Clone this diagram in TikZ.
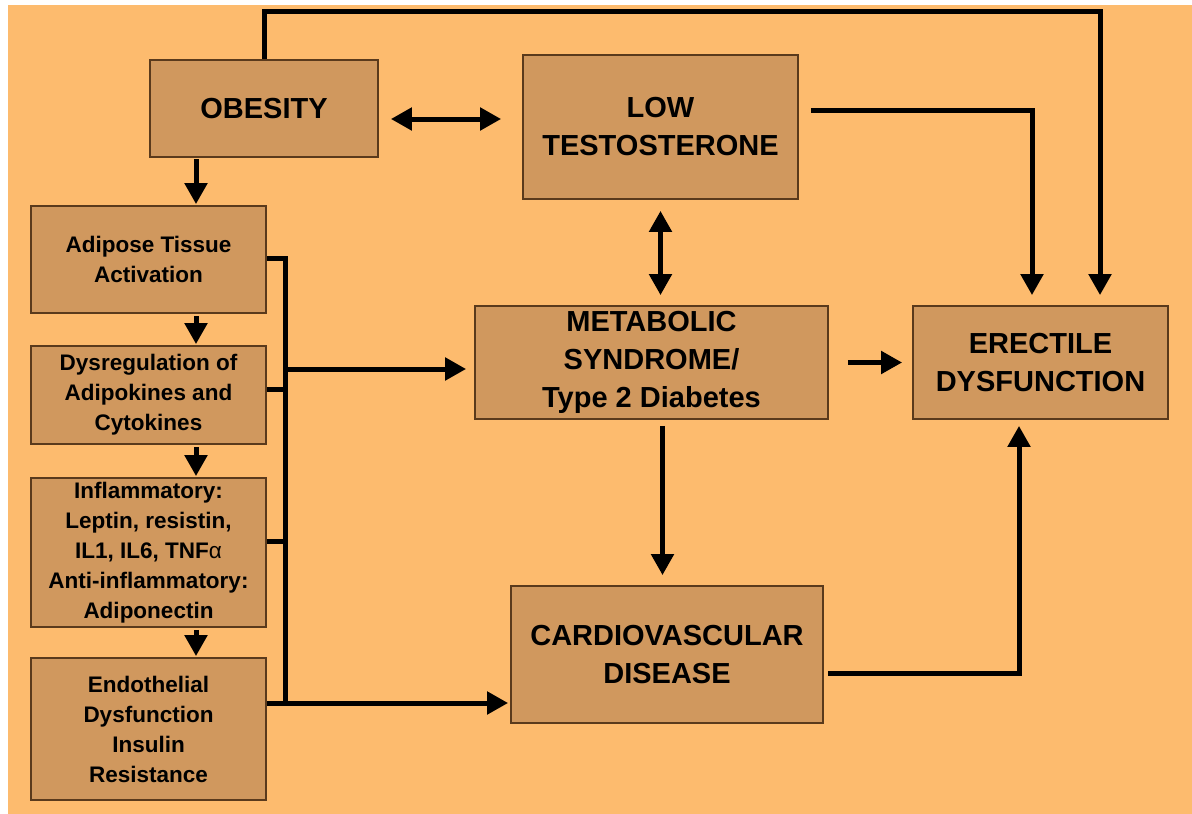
\documentclass[tikz,border=0pt]{standalone}
\usepackage{fontspec}
\setmainfont{Liberation Sans}
\usetikzlibrary{arrows.meta,calc}
\definecolor{bg}{HTML}{FDBB6E}
\definecolor{boxfill}{HTML}{D0985E}
\definecolor{boxline}{HTML}{5A3A1C}
\begin{document}
\begin{tikzpicture}[x=1pt,y=-1pt,
 box/.style={draw=boxline, line width=1.8pt, fill=boxfill, align=center, inner sep=0pt, font=\bfseries\fontsize{29}{38}\selectfont},
 sbox/.style={box, font=\bfseries\fontsize{22.5}{30}\selectfont},
 conn/.style={line width=5pt, black, line join=miter},
 arr/.style={conn, -{Triangle[length=21pt,width=22pt]}},
 dbl/.style={conn, {Triangle[length=21pt,width=22pt]}-{Triangle[length=21pt,width=22pt]}}]
\fill[white] (0,0) rectangle (1192,814);
\fill[bg] (8,5) rectangle (1192,814);
\useasboundingbox (0,0) rectangle (1192,814);

\node[box, minimum width=228pt, minimum height=97pt] (ob) at (264,108.5) {OBESITY};
\node[box, minimum width=275pt, minimum height=144pt] (lt) at (660.5,127) {LOW\\TESTOSTERONE};
\node[sbox, minimum width=235pt, minimum height=107pt] (at) at (148.5,259.5) {Adipose Tissue\\Activation};
\node[sbox, minimum width=235pt, minimum height=98pt] (dys) at (148.5,395) {Dysregulation of\\Adipokines and\\Cytokines};
\node[sbox, minimum width=235pt, minimum height=149pt] (inf) at (148.5,552.5) {Inflammatory:\\Leptin, resistin,\\IL1, IL6, TNF{\mdseries α}\\Anti-inflammatory:\\Adiponectin};
\node[sbox, minimum width=235pt, minimum height=142pt] (en) at (148.5,729) {Endothelial\\Dysfunction\\Insulin\\Resistance};
\node[box, minimum width=353pt, minimum height=113pt] (ms) at (651.5,362.5) {METABOLIC\\SYNDROME/\\Type 2 Diabetes};
\node[box, minimum width=255pt, minimum height=113pt] (ed) at (1040.5,362.5) {ERECTILE\\DYSFUNCTION};
\node[box, minimum width=312pt, minimum height=137pt] (cvd) at (667,654.5) {CARDIOVASCULAR\\DISEASE};

% top connectors
\draw[arr] (ob.north) -- ++(0,-48) -| ([shift={(59.5,-10)}]ed.north);
\draw[dbl] ([shift={(12,10.5)}]ob.east) -- ([shift={(-21,-8)}]lt.west);
\draw[arr] ([shift={(12,-17)}]lt.east) -| ([shift={(-8.5,-10)}]ed.north);
\draw[dbl] ([shift={(0,11)}]lt.south) -- ([shift={(9,-10)}]ms.north);
\draw[arr] ([shift={(19,0)}]ms.east) -- ([shift={(-10,0)}]ed.west);
\draw[arr] ([shift={(11,6)}]ms.south) -- ([shift={(-4.5,-10)}]cvd.north);
\draw[arr] ([shift={(4,18.5)}]cvd.east) -| ([shift={(-21.5,6)}]ed.south);

% left column
\draw[arr] ([shift={(47.5,-46)}]at.north) -- ([shift={(47.5,-1)}]at.north);
\draw[arr] ([shift={(47.5,2)}]at.south) -- ([shift={(47.5,-1)}]dys.north);
\draw[arr] ([shift={(47.5,2)}]dys.south) -- ([shift={(47.5,-1)}]inf.north);
\draw[arr] ([shift={(47.5,2)}]inf.south) -- ([shift={(47.5,-1)}]en.north);

% bus
\coordinate (busbot) at ($(en.east)+(19,-26)$);
\draw[conn] ([shift={(0,-1.5)}]at.east) -| (busbot);
\draw[conn] ([shift={(0,-6)}]dys.east) -- ++(19,0);
\draw[conn] ([shift={(0,-11.5)}]inf.east) -- ++(19,0);
\draw[arr] ($(dys.east)+(19,-26)$) -- ([shift={(-8,6.5)}]ms.west);
\draw[arr] ([shift={(0,-26)}]en.east) -- ([shift={(-2,48.5)}]cvd.west);
\end{tikzpicture}
\end{document}
